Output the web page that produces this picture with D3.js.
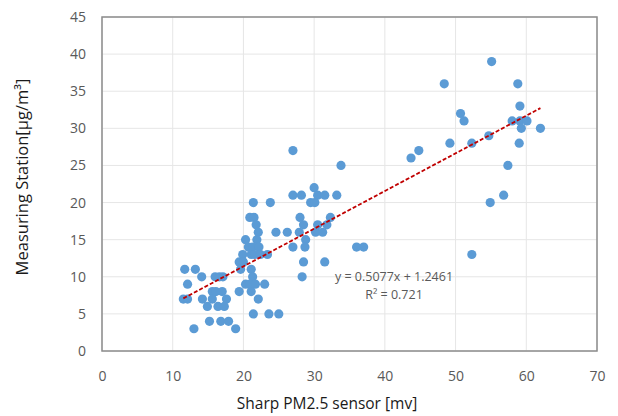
<!DOCTYPE html>
<html><head><meta charset="utf-8">
<script src="https://cdn.jsdelivr.net/npm/d3@7"></script>
<style>body{margin:0;background:#fff}text{font-family:"Open Sans",sans-serif}</style>
</head><body><svg id="c" width="618" height="416"></svg>
<script>
const xTicks=[0,10,20,30,40,50,60,70];
const yTicks=[0,5,10,15,20,25,30,35,40,45];
const sensorMv=[30,27,28.2,30.5,31.5,33.2,21.4,23.8,29.5,30.1,20.9,21.5,28,32.3,21.8,28.5,30.5,31.8,22.1,24.6,26.2,27.9,30.2,31.2,20.3,21.9,28.8,20.7,21.3,22.2,27,28.7,36,37,19.9,21.1,21.6,22.4,23.4,19.4,20,28.5,31.5,11.7,13.2,19.6,21.1,14.1,16,16.6,17.1,21.3,28.3,12.1,20.3,20.9,21.7,23,15.6,16.1,17,19.4,21.1,11.5,12.1,14.2,15.6,17.6,22.1,14.9,16.4,17.3,21.4,23.6,25,15.2,16.8,17.9,13,18.9,27,33.8,55.1,48.4,58.8,59.1,50.7,51.2,58,59.1,60.1,59.3,62,54.7,49.2,52.3,59,44.8,43.7,57.4,56.8,54.9,52.3];
const stationUg=[22,21,21,21,21,21,20,20,20,20,18,18,18,18,17,17,17,17,16,16,16,16,16,16,15,15,15,14,14,14,14,14,14,14,13,13,13,13,13,12,12,12,12,11,11,11,11,10,10,10,10,10,10,9,9,9,9,9,8,8,8,8,8,7,7,7,7,7,7,6,6,6,5,5,5,4,4,4,3,3,27,25,39,36,36,33,32,31,31,31,31,30,30,29,28,28,28,27,26,25,21,20,13];
const slope=0.5077, intercept=1.2461, trendRange=[11.5,62];
const eqLabel="y = 0.5077x + 1.2461", r2Label="R² = 0.721";
const xTitle="Sharp PM2.5 sensor [mv]", yTitle="Measuring Station[μg/m³]";

const svg=d3.select("#c");
const L=102,R=597,T=17,B=351;
const x=d3.scaleLinear().domain([0,70]).range([L,R]);
const y=d3.scaleLinear().domain([0,45]).range([B,T]);

const g=svg.append("g");
g.selectAll("line.gx").data(xTicks).join("line").attr("x1",d=>x(d)).attr("x2",d=>x(d)).attr("y1",T).attr("y2",B).attr("stroke","#e6e6e6").attr("stroke-width",1);
g.selectAll("line.gy").data(yTicks).join("line").attr("y1",d=>y(d)).attr("y2",d=>y(d)).attr("x1",L).attr("x2",R).attr("stroke","#e6e6e6").attr("stroke-width",1);

const xa=svg.append("g").attr("transform",`translate(0,${B})`).call(d3.axisBottom(x).tickValues(xTicks).tickSize(0).tickPadding(20));
const ya=svg.append("g").attr("transform",`translate(${L},0)`).call(d3.axisLeft(y).tickValues(yTicks).tickSize(0).tickPadding(16));
[xa,ya].forEach(a=>{a.select(".domain").remove();a.selectAll("text").attr("fill","#595959").style("font-size","14px").style("font-family","'Open Sans',sans-serif");});

svg.append("rect").attr("x",L).attr("y",T).attr("width",R-L).attr("height",B-T).attr("fill","none").attr("stroke","#8c8c8c").attr("stroke-width",1.5);

svg.append("g").selectAll("circle").data(sensorMv.map((v,i)=>[v,stationUg[i]])).join("circle")
 .attr("cx",d=>x(d[0])).attr("cy",d=>y(d[1])).attr("r",4.6).attr("fill","#5b9bd5");

svg.append("line").attr("x1",x(trendRange[0])).attr("y1",y(slope*trendRange[0]+intercept))
 .attr("x2",x(trendRange[1])).attr("y2",y(slope*trendRange[1]+intercept))
 .attr("stroke","#c00000").attr("stroke-width",1.8).attr("stroke-dasharray","4,2");

svg.append("text").attr("x",394).attr("y",281).attr("text-anchor","middle").attr("fill","#595959").style("font-size","12.5px").text(eqLabel);
svg.append("text").attr("x",394).attr("y",299).attr("text-anchor","middle").attr("fill","#595959").style("font-size","12.5px").text(r2Label);

svg.append("text").attr("x",327).attr("y",409).attr("text-anchor","middle").attr("fill","#1a1a1a").style("font-size","15.5px").text(xTitle);
svg.append("text").attr("transform","translate(28,177) rotate(-90)").attr("text-anchor","middle").attr("fill","#1a1a1a").style("font-size","16.5px").text(yTitle);
</script></body></html>
